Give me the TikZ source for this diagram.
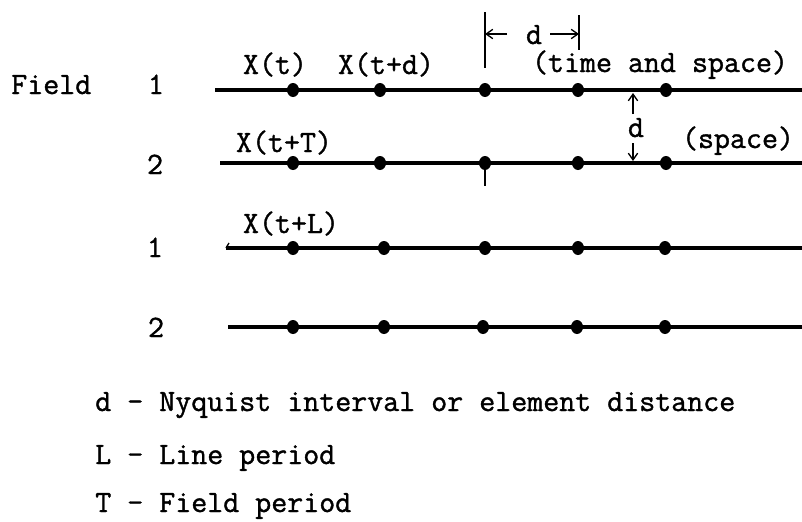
\documentclass[tikz,border=0pt]{standalone}
\usepackage{fontspec}
\newfontfamily\tw[FakeBold=1.2]{Latin Modern Mono}
\usetikzlibrary{shapes.geometric,arrows.meta}
\begin{document}
\begin{tikzpicture}[x=0.75pt,y=-0.75pt,
  txt/.style={font=\fontsize{23.3}{28}\selectfont\tw, inner sep=0pt, anchor=base},
  lbl/.style={txt, anchor=base west},
  dot/.style={ellipse, fill=black, inner sep=0pt, minimum width=9pt, minimum height=10.5pt},
  rowline/.style={line width=2.6pt},
  dim/.style={line width=1pt},
  arr/.style={dim, -{Straight Barb[length=5pt,width=7pt]}}]
\useasboundingbox (0,0) rectangle (802,521);

% sample lines
\coordinate (s1) at (215,90);  \coordinate (e1) at (802,90);
\coordinate (s2) at (220,163); \coordinate (e2) at (802,163);
\coordinate (s3) at (226,248); \coordinate (e3) at (802,248);
\coordinate (s4) at (228,327); \coordinate (e4) at (802,327);
\coordinate (h3) at (229,243);
\draw[rowline] (s1) -- (e1);
\draw[rowline] (s2) -- (e2);
\draw[rowline] (s3) -- (e3);
\draw[rowline] (s4) -- (e4);
\draw[dim] (s3) -- (h3);

% sample points
\node[dot] (p11) at (293,90) {};
\node[dot] (p12) at (380,90) {};
\node[dot] (p13) at (485,90) {};
\node[dot] (p14) at (578,90) {};
\node[dot] (p15) at (666,90) {};
\node[dot] (p21) at (293,163) {};
\node[dot] (p22) at (380,163) {};
\node[dot] (p23) at (485,163) {};
\node[dot] (p24) at (578,163) {};
\node[dot] (p25) at (666,163) {};
\node[dot] (p31) at (293,248) {};
\node[dot] (p32) at (384,248) {};
\node[dot] (p33) at (485,248) {};
\node[dot] (p34) at (578,248) {};
\node[dot] (p35) at (665,248) {};
\node[dot] (p41) at (293,327) {};
\node[dot] (p42) at (384,327) {};
\node[dot] (p43) at (483,327) {};
\node[dot] (p44) at (577,327) {};
\node[dot] (p45) at (665,327) {};

% row labels
\node[lbl] (field) at (11,94) {Field};
\node[txt] (r1) at (156,94) {1};
\node[txt] (r2) at (155,174) {2};
\node[txt] (r3) at (155,257) {1};
\node[txt] (r4) at (156,337) {2};

% sample labels
\node[txt] (xt)  at (275,74) {X(t)};
\node[txt] (xtd) at (386,74) {X(t+d)};
\node[txt] (ts)  at (660,72) {(time and space)};
\node[txt] (xtT) at (284,152) {X(t+T)};
\node[txt] (sp)  at (738,148) {(space)};
\node[txt] (xtL) at (291,233) {X(t+L)};

% horizontal dimension d
\coordinate (tl1) at (485,12);  \coordinate (tl2) at (485,68);
\coordinate (tr1) at (579,15);  \coordinate (tr2) at (579,50);
\draw[dim] (tl1) -- (tl2);
\draw[dim] (tr1) -- (tr2);
\coordinate (tb) at (485,186);
\draw[dim] (p23) -- (tb);
\node[txt] (dh) at (534,44) {d};
\coordinate (la) at (507,34);
\coordinate (ra) at (550,34);
\draw[arr] (la) -- (la -| tl1);
\draw[arr] (ra) -- (ra -| tr1);

% vertical dimension d
\node[txt] (dv) at (636,137) {d};
\coordinate (vu1) at (633,114); \coordinate (vu2) at (633,93);
\coordinate (vd1) at (633,143); \coordinate (vd2) at (633,161);
\draw[arr] (vu1) -- (vu2);
\draw[arr] (vd1) -- (vd2);

% legend
\node[lbl] (l1) at (95,411) {d - Nyquist interval or element distance};
\node[lbl] (l2) at (95,464) {L - Line period};
\node[lbl] (l3) at (95,512) {T - Field period};
\end{tikzpicture}
\end{document}
